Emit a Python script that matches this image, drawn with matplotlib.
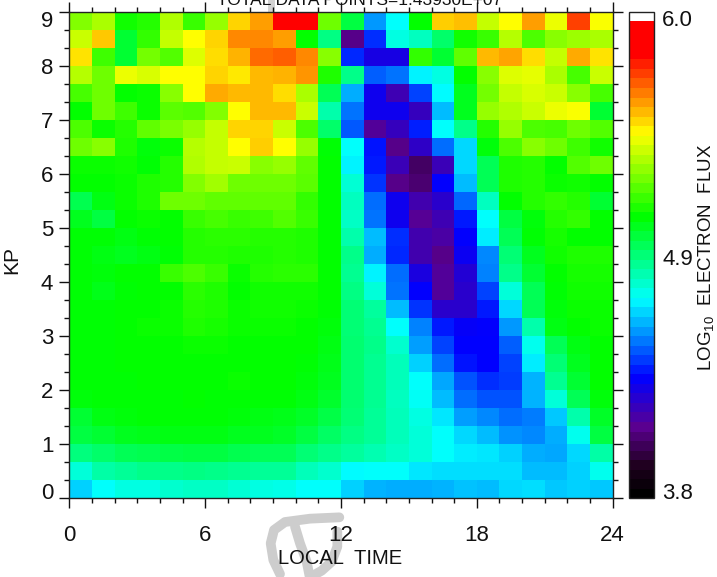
import numpy as np
import matplotlib
matplotlib.use("Agg")
import matplotlib.pyplot as plt
from matplotlib.cm import ScalarMappable
from matplotlib.colors import LinearSegmentedColormap, Normalize
from matplotlib.lines import Line2D
from matplotlib.ticker import MultipleLocator
from matplotlib.transforms import ScaledTranslation

plt.rcParams['font.family'] = ['Liberation Sans', 'DejaVu Sans']
plt.rcParams['mathtext.fontset'] = 'custom'
plt.rcParams['mathtext.rm'] = 'Liberation Sans'
plt.rcParams['mathtext.default'] = 'regular'

local_time_edges = np.arange(0, 25, 1)
kp_edges = np.arange(0, 28) / 3

row_26 = [5.27,5.33,5.10,5.13,5.34,5.16,5.30,5.52,5.60,5.85,5.85,5.24,4.98,4.55,4.70,5.08,5.53,5.55,5.37,5.46,5.60,5.43,5.73,5.45]
row_25 = [5.38,5.54,5.00,5.15,5.37,5.46,5.52,5.63,5.63,5.60,5.08,4.88,4.10,4.40,4.74,4.79,4.92,5.10,5.16,5.35,5.19,5.28,5.31,5.33]
row_24 = [5.50,5.17,5.00,5.25,5.20,5.41,5.51,5.57,5.67,5.69,5.63,5.28,4.39,4.28,4.28,5.15,5.00,5.22,5.56,5.59,5.51,5.37,5.58,5.50]
row_23 = [5.35,5.24,5.43,5.40,5.46,5.46,5.52,5.49,5.56,5.57,5.61,5.12,4.87,4.47,4.50,4.68,4.74,5.08,5.28,5.41,5.42,5.33,5.18,5.38]
row_22 = [5.18,5.24,5.08,5.09,5.28,5.46,5.58,5.56,5.56,5.51,5.33,4.95,4.58,4.30,4.18,4.43,4.69,5.03,5.25,5.37,5.40,5.38,5.28,5.18]
row_21 = [5.08,5.24,5.17,5.09,5.21,5.20,5.27,5.46,5.56,5.56,5.38,4.82,4.50,4.30,4.30,4.20,4.60,5.03,5.30,5.34,5.38,5.43,5.45,5.00]
row_20 = [5.19,5.09,5.13,5.22,5.26,5.30,5.37,5.52,5.52,5.38,5.19,4.92,4.46,4.13,4.20,4.38,4.70,4.87,5.13,5.30,5.19,5.18,5.24,5.20]
row_19 = [5.24,5.28,5.12,5.06,5.09,5.35,5.37,5.46,5.53,5.46,5.30,5.07,4.70,4.36,4.10,4.22,4.49,4.64,5.06,5.19,5.28,5.24,5.17,5.10]
row_18 = [5.09,5.09,5.10,5.07,5.13,5.34,5.37,5.38,5.28,5.30,5.22,5.08,4.68,4.37,4.19,4.04,4.19,4.64,4.95,5.12,5.13,5.08,5.20,5.24]
row_17 = [5.08,5.08,5.09,5.12,5.13,5.27,5.32,5.24,5.24,5.24,5.21,5.08,4.76,4.41,4.10,4.06,4.33,4.60,4.95,5.12,5.13,5.09,5.10,5.08]
row_16 = [4.96,5.05,5.09,5.12,5.24,5.24,5.22,5.22,5.22,5.22,5.15,5.08,4.79,4.49,4.30,4.17,4.23,4.48,4.79,5.08,5.13,5.15,5.13,5.00]
row_15 = [5.03,4.98,5.08,5.09,5.08,5.16,5.18,5.16,5.17,5.20,5.16,5.08,4.78,4.50,4.30,4.12,4.18,4.37,4.70,4.98,5.06,5.13,5.15,5.08]
row_14 = [5.07,5.07,5.05,5.07,5.08,5.13,5.14,5.14,5.13,5.13,5.12,5.08,4.82,4.60,4.40,4.17,4.15,4.33,4.67,4.95,5.07,5.11,5.08,5.08]
row_13 = [5.07,5.05,5.03,5.05,5.07,5.13,5.13,5.12,5.12,5.13,5.12,5.08,4.87,4.58,4.39,4.17,4.10,4.31,4.53,4.90,5.03,5.10,5.12,5.12]
row_12 = [5.07,5.06,5.08,5.08,5.16,5.19,5.16,5.09,5.13,5.14,5.14,5.08,4.86,4.68,4.49,4.27,4.13,4.25,4.52,4.87,5.00,5.08,5.11,5.11]
row_11 = [5.07,5.04,5.07,5.08,5.08,5.14,5.12,5.08,5.10,5.10,5.10,5.08,4.88,4.75,4.50,4.33,4.13,4.23,4.43,4.75,4.95,5.07,5.10,5.10]
row_10 = [5.07,5.07,5.08,5.08,5.09,5.13,5.12,5.09,5.10,5.10,5.09,5.07,4.90,4.84,4.60,4.41,4.23,4.23,4.37,4.64,4.95,5.06,5.09,5.09]
row_09 = [5.07,5.07,5.08,5.09,5.09,5.12,5.11,5.09,5.09,5.09,5.08,5.06,4.90,4.86,4.70,4.52,4.37,4.32,4.33,4.55,4.82,5.05,5.08,5.09]
row_08 = [5.07,5.07,5.08,5.08,5.08,5.09,5.09,5.08,5.08,5.08,5.08,5.05,4.91,4.87,4.77,4.56,4.43,4.335,4.335,4.47,4.72,4.95,5.05,5.08]
row_07 = [5.07,5.07,5.08,5.08,5.08,5.08,5.08,5.08,5.08,5.08,5.07,5.04,4.91,4.86,4.80,4.63,4.49,4.36,4.335,4.43,4.67,4.90,5.03,5.08]
row_06 = [5.07,5.07,5.07,5.08,5.08,5.08,5.08,5.09,5.08,5.08,5.06,5.03,4.91,4.86,4.80,4.70,4.57,4.45,4.40,4.42,4.59,4.86,5.00,5.08]
row_05 = [5.06,5.07,5.07,5.07,5.07,5.08,5.07,5.07,5.07,5.07,5.05,5.01,4.91,4.86,4.79,4.71,4.60,4.49,4.45,4.45,4.59,4.75,4.95,5.06]
row_04 = [5.00,5.05,5.06,5.07,5.07,5.07,5.07,5.06,5.05,5.04,5.02,4.97,4.90,4.85,4.80,4.74,4.66,4.56,4.53,4.49,4.51,4.62,4.82,5.02]
row_03 = [4.98,5.00,5.03,5.04,5.05,5.05,5.05,5.03,5.03,5.02,4.98,4.93,4.88,4.85,4.80,4.75,4.70,4.64,4.60,4.54,4.53,4.58,4.72,4.98]
row_02 = [4.89,4.92,4.95,4.96,4.97,4.98,4.98,4.96,4.95,4.95,4.90,4.87,4.84,4.81,4.78,4.75,4.70,4.67,4.66,4.63,4.58,4.57,4.64,4.83]
row_01 = [4.75,4.83,4.85,4.87,4.87,4.88,4.87,4.86,4.85,4.85,4.80,4.77,4.69,4.70,4.70,4.66,4.65,4.65,4.65,4.65,4.60,4.60,4.63,4.72]
row_00 = [4.63,4.70,4.74,4.74,4.77,4.78,4.78,4.76,4.74,4.73,4.70,4.70,4.63,4.59,4.58,4.58,4.59,4.61,4.60,4.64,4.65,4.62,4.63,4.62]

rows_top_down = [row_26,row_25,row_24,row_23,row_22,row_21,row_20,row_19,row_18,
                 row_17,row_16,row_15,row_14,row_13,row_12,row_11,row_10,row_09,
                 row_08,row_07,row_06,row_05,row_04,row_03,row_02,row_01,row_00]
flux = np.array(rows_top_down[::-1])

vmin, vmax = 3.8, 6.0
colorbar_ticks = [3.835, 4.893, 5.97]
colorbar_labels = ['3.8', '4.9', '6.0']
x_major = [0, 6, 12, 18, 24]
x_labels = ['0', '6', '12', '18', '24']
y_major = list(range(10))
y_labels = [str(k) for k in y_major]

W, H = 717, 577
def fx(px): return px / W
def fy(py): return 1 - py / H

cmap = LinearSegmentedColormap.from_list('idl_flux', [
    (0.000, '#000000'), (0.060, '#200020'), (0.140, '#5a0090'), (0.243, '#0000ff'),
    (0.407, '#00ffff'), (0.580, '#00ff00'), (0.755, '#ffff00'), (0.920, '#ff0000'),
    (0.985, '#ff0000'), (0.986, '#ffffff'), (1.000, '#ffffff')], N=512)
cmap_bar = cmap.resampled(51)

fig = plt.figure(figsize=(W / 100, H / 100), dpi=100)

# faint scanned mark behind the axis titles
wm = dict(color='#cdcdcd', lw=7.0, solid_capstyle='round', solid_joinstyle='round',
          zorder=0, transform=fig.transFigure)
def mark(points):
    xs = [fx(250 + a / 3) for a, b in points]
    ys = [fy(500 + b / 3) for a, b in points]
    fig.add_artist(Line2D(xs, ys, **wm))
mark([(268,52),(180,56),(105,66),(72,90),(62,130),(70,180),(90,222)])
mark([(135,80),(150,130),(170,185),(180,235)])
mark([(262,95),(262,140),(245,185),(215,212),(180,232)])
fig.add_artist(Line2D([fx(271), fx(271)], [fy(0), fy(9)], color='#d2d2d2', lw=5, zorder=0,
                      transform=fig.transFigure))

ax = fig.add_axes([fx(69.3), fy(498.3), (612.7 - 69.3) / W, (498.3 - 11.7) / H])
ax.patch.set_alpha(0)
mesh = ax.pcolormesh(local_time_edges, kp_edges, flux, cmap=cmap, vmin=vmin, vmax=vmax)
ax.set_xlim(0, 24)
ax.set_ylim(0, 9)
ax.set_xticks(x_major, x_labels)
ax.set_yticks(y_major, y_labels)
ax.xaxis.set_minor_locator(MultipleLocator(1))
ax.yaxis.set_minor_locator(MultipleLocator(1 / 3))
ax.tick_params(axis='both', which='major', direction='out', length=7.5, width=1.0,
               top=True, right=True, labelsize=16, color='#111111', labelcolor='#111111')
ax.tick_params(axis='both', which='minor', direction='out', length=3.5, width=1.0,
               top=True, right=True, color='#111111')
ax.tick_params(axis='x', which='major', pad=12)
ax.tick_params(axis='y', which='major', pad=4)
for s in ax.spines.values():
    s.set_linewidth(1.0)
    s.set_color('#222222')

# first and last Kp labels sit inside the axis range
ylabs = ax.get_yticklabels()
ylabs[0].set_transform(ylabs[0].get_transform() + ScaledTranslation(0, 7 / 100, fig.dpi_scale_trans))
ylabs[-1].set_transform(ylabs[-1].get_transform() + ScaledTranslation(0, -7 / 100, fig.dpi_scale_trans))

cax = fig.add_axes([fx(629), fy(498.3), 25 / W, (498.3 - 11.7) / H])
cb = fig.colorbar(ScalarMappable(Normalize(vmin, vmax), cmap_bar), cax=cax)
cb.set_ticks(colorbar_ticks, labels=colorbar_labels)
cb.ax.tick_params(length=0, labelsize=16, pad=6, labelcolor='#111111')
cb.ax.minorticks_off()
cb.outline.set_linewidth(1.0)
cb.outline.set_edgecolor('#222222')

fig.text(fx(360), fy(5), 'TOTAL DATA POINTS=1.43930E+07', ha='center', va='baseline',
         fontsize=12.5, color='#111111')
fig.text(fx(340), fy(558), 'LOCAL  TIME', ha='center', va='center', fontsize=14.5, color='#111111')
fig.text(fx(12), fy(260), 'KP', ha='center', va='center', rotation=90, fontsize=15, color='#111111')
fig.text(fx(706), fy(257), 'LOG$_{10}$  ELECTRON  FLUX', ha='center', va='center', rotation=90,
         fontsize=13.5, color='#111111')

fig.savefig('out.png', dpi=100)
